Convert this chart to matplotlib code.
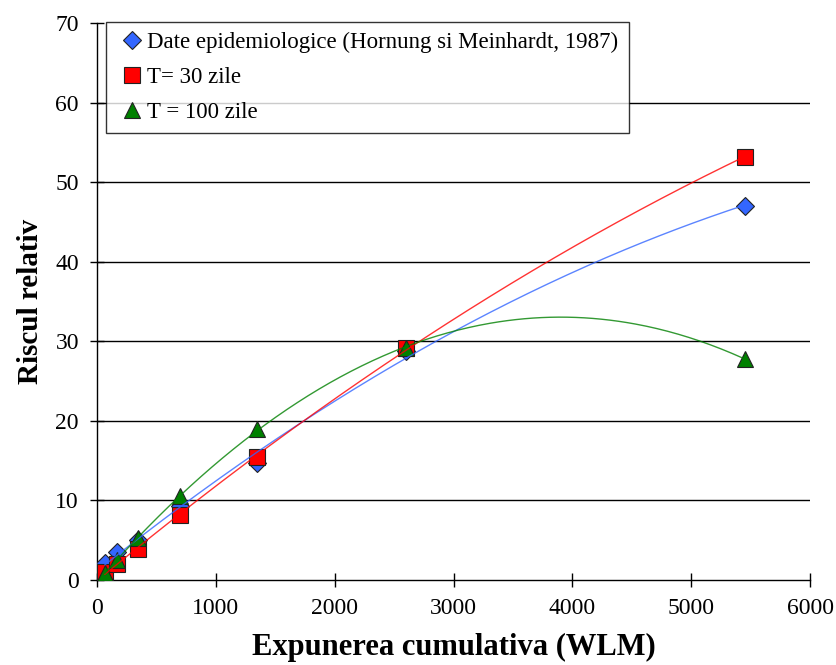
import numpy as np
import matplotlib.pyplot as plt

# Expunere cumulativa (WLM) si riscul relativ pentru fiecare serie
expunere = [67, 170, 345, 700, 1345, 2600, 5450]
risc_epidemiologic = [2.1, 3.5, 5.0, 9.3, 14.7, 28.8, 47.0]
risc_t30 = [1.0, 2.0, 3.9, 8.2, 15.5, 29.1, 53.2]
risc_t100 = [0.9, 2.5, 5.3, 10.5, 19.0, 29.2, 27.8]

etichete = ['Date epidemiologice (Hornung si Meinhardt, 1987)',
            'T= 30 zile', 'T = 100 zile']
culori = ['#3366FF', '#FF0000', '#008000']
markere = ['D', 's', '^']
dim_markere = [9, 11, 12]

plt.rcParams['font.family'] = ['Liberation Serif', 'DejaVu Serif']

fig = plt.figure(figsize=(8.36, 6.65), dpi=100)
ax = fig.add_axes([0.116, 0.128, 0.853, 0.837])

x = np.array(expunere, dtype=float)
xs = np.linspace(x.min(), x.max(), 300)

for y, eticheta, c, m, ms in zip([risc_epidemiologic, risc_t30, risc_t100],
                                 etichete, culori, markere, dim_markere):
    ax.plot(x, y, linestyle='none', marker=m, markersize=ms,
            markerfacecolor=c, markeredgecolor='#222222', markeredgewidth=0.8,
            label=eticheta, zorder=3)
    # linie de tendinta polinomiala de ordinul 2
    coef = np.polyfit(x, y, 2)
    ax.plot(xs, np.polyval(coef, xs), color=c, linewidth=1.0, alpha=0.8,
            zorder=4)

ax.set_xlim(0, 6000)
ax.set_ylim(0, 70)
ax.set_xticks(range(0, 6001, 1000))
ax.set_yticks(range(0, 71, 10))
for yv in range(10, 70, 10):
    ax.axhline(yv, color='black', linewidth=1.0, zorder=1)

for s in ['top', 'right']:
    ax.spines[s].set_visible(False)
for s in ['left', 'bottom']:
    ax.spines[s].set_linewidth(1.0)
ax.tick_params(direction='inout', length=10, width=1.0, labelsize=17,
               pad=8)

ax.set_xlabel('Expunerea cumulativa (WLM)', fontsize=22, fontweight='bold',
              labelpad=10)
ax.set_ylabel('Riscul relativ', fontsize=21, fontweight='bold', labelpad=8)

leg = ax.legend(loc='upper left', bbox_to_anchor=(0.012, 1.003), fontsize=16.5,
                frameon=True, fancybox=False, edgecolor='black',
                handletextpad=0.0, handlelength=1.38, borderpad=0.45,
                labelspacing=0.6, borderaxespad=0)
leg.get_frame().set_linewidth(1.0)
leg.set_zorder(5)

fig.savefig('out.png', dpi=100, facecolor='white')
